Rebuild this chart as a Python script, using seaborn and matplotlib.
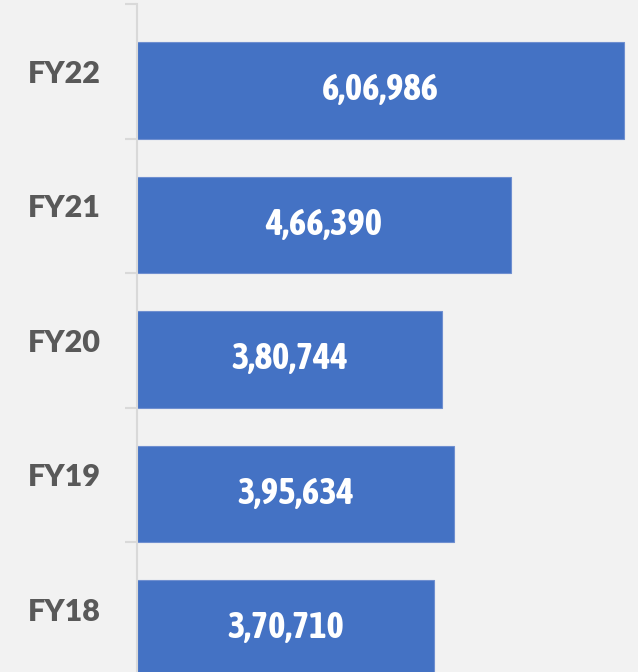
import matplotlib
matplotlib.use("Agg")
import matplotlib.pyplot as plt
from matplotlib import font_manager
import seaborn as sns
import pandas as pd

years = ["FY22", "FY21", "FY20", "FY19", "FY18"]
values = [606986, 466390, 380744, 395634, 370710]
value_labels = ["6,06,986", "4,66,390", "3,80,744", "3,95,634", "3,70,710"]

sns.set_style("white")
plt.rcParams["font.family"] = ["Lato", "DejaVu Sans"]

bg = "#f2f2f2"
bar_color = "#4472c4"
axis_gray = "#d9d9d9"
label_gray = "#595959"
shift = 0.143  # bars sit in the lower part of each category slot

# look for a bold narrow face for the numbers inside the bars
bold_narrow = sorted({f.name for f in font_manager.fontManager.ttflist
                      if ("Narrow" in f.name or "Condensed" in f.name)
                      and f.weight in (700, "bold")})
num_family = [bold_narrow[0], "DejaVu Sans"] if bold_narrow else ["Roboto", "DejaVu Sans"]

df = pd.DataFrame({"year": years, "value": values})

fig = plt.figure(figsize=(6.38, 6.72), dpi=100, facecolor=bg)
ax = fig.add_axes([137 / 638, -4.5 / 672, 501 / 638, 672.5 / 672])
ax.set_facecolor(bg)

sns.barplot(data=df, x="value", y="year", orient="h", color=bar_color,
            saturation=1, width=0.714, edgecolor="#6f8fd0", linewidth=0.8,
            ax=ax)
for p in ax.patches:
    p.set_y(p.get_y() + shift)

for i, (v, lab) in enumerate(zip(values, value_labels)):
    ax.text(v / 2, i + shift, lab, ha="center", va="center", color="white",
            fontsize=26.5, fontweight="bold", family=num_family)

ax.set_xlim(0, 624400)
ax.set_ylim(len(years) - 0.5, -0.5)
ax.set_xlabel("")
ax.set_ylabel("")
ax.set_xticks([])

for s in ["top", "right", "bottom"]:
    ax.spines[s].set_visible(False)
ax.spines["left"].set_color(axis_gray)
ax.spines["left"].set_linewidth(1.5)

ax.set_yticks(range(len(years)))
ax.set_yticklabels(years, fontsize=22, fontweight="heavy", color=label_gray)
ax.tick_params(axis="y", which="major", left=False, length=0, pad=26)
ax.set_yticks([i - 0.5 for i in range(len(years) + 1)], minor=True)
ax.tick_params(axis="y", which="minor", left=True, length=8.5, width=1.5,
               color=axis_gray, direction="out")

fig.savefig("out.png", dpi=100, facecolor=bg)
